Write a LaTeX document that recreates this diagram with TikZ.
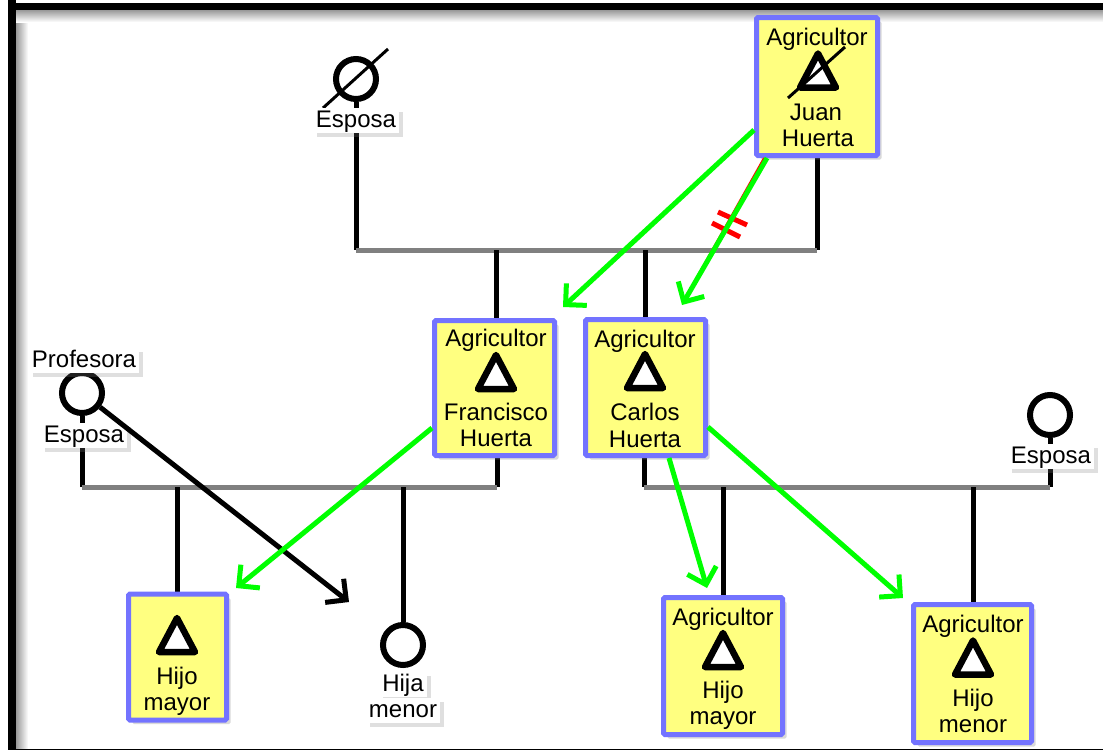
\documentclass[tikz,border=0pt]{standalone}
\usepackage{fontspec}
\setmainfont{Liberation Sans}
\usetikzlibrary{arrows.meta,shadows,backgrounds}
\definecolor{boxblue}{RGB}{115,115,255}
\definecolor{boxyellow}{RGB}{255,255,128}
\definecolor{arrgreen}{RGB}{0,255,0}
\definecolor{linegray}{RGB}{128,128,128}
\definecolor{hashred}{RGB}{255,0,0}
\newcommand\ptri[2]{\draw[tri] ({#1-18},{#2+17}) -- (#1,{#2-17}) -- ({#1+18},{#2+17}) -- cycle;}
\begin{document}
\begin{tikzpicture}[x=1pt,y=-1pt,
  every node/.style={font=\fontsize{24}{26}\selectfont},
  person/.style={draw=boxblue, line width=5pt, fill=boxyellow, rounded corners=1.5pt, inner sep=0pt,
    drop shadow={shadow xshift=4pt, shadow yshift=-4pt, opacity=0.3}},
  lbl/.style={fill=white, anchor=base, inner xsep=3pt, inner ysep=1.5pt, text height=18pt, text depth=4pt,
    drop shadow={shadow xshift=4pt, shadow yshift=-4pt, opacity=0.25}},
  txt/.style={anchor=base, inner sep=0pt},
  kin/.style={line width=5pt, black},
  bar/.style={line width=5pt, linegray},
  fem/.style={draw, line width=6pt, circle, minimum size=40pt, inner sep=0pt, fill=white},
  tri/.style={draw, line width=6.5pt, fill=white, line join=round},
  slash/.style={line width=3pt, black},
  barb/.tip={Straight Barb[length=15pt, width=30pt, line width=5pt]},
  link/.style={line width=5pt, arrgreen, -barb},
  blink/.style={line width=5pt, black, -barb},
  hash/.style={line width=5pt, hashred},
]
\useasboundingbox (0,0) rectangle (1103,750);
% frame
\shade[left color=black!40, right color=white] (16,10) rectangle (28,749);
\shade[top color=black!40, bottom color=white] (16,10) rectangle (1103,22);
\fill[black] (8,0) rectangle (16,750);
\fill[black] (8,3) rectangle (1103,10);
\draw[line width=1pt] (8,749) -- (1103,749);

% persons (boxes)
\node[person, minimum width=121pt, minimum height=138pt] (juan) at (817,86.5) {};
\node[person, minimum width=120pt, minimum height=135pt] (fran) at (494.5,388) {};
\node[person, minimum width=120pt, minimum height=136pt] (carlos) at (645.5,387.5) {};
\node[person, minimum width=98pt, minimum height=126pt] (hm1) at (177.5,657) {};
\node[person, minimum width=119pt, minimum height=137pt] (hm2) at (723,666) {};
\node[person, minimum width=118pt, minimum height=138pt] (hmn) at (972.5,673.5) {};

% women
\node[fem] (esp1) at (356,79) {};
\node[fem] (esp2) at (82,393) {};
\node[fem] (esp3) at (1050,415) {};
\node[fem] (hija) at (403,645) {};
\draw[slash] (323,108) -- (388,49);

% kinship lines
\begin{pgfonlayer}{background}
\coordinate (tb1) at (356,250);
\coordinate (tb2) at (817,250);
\draw[kin] (esp1.south) -- (tb1);
\draw[kin] (juan.south -| tb2) -- (tb2);
\draw[bar] (tb1) -- (tb2);
\coordinate (tc1) at (496,250);
\coordinate (tc2) at (645,250);
\draw[kin] (tc1) -- (tc1 |- fran.north);
\draw[kin] (tc2) -- (tc2 |- carlos.north);

\coordinate (lb1) at (82,487);
\coordinate (lb2) at (497,487);
\draw[kin] (esp2.south) -- (lb1);
\draw[kin] (fran.south -| lb2) -- (lb2);
\draw[bar] (lb1) -- (lb2);
\coordinate (lc1) at (177,487);
\coordinate (lc2) at (403,487);
\draw[kin] (lc1) -- (lc1 |- hm1.north);
\draw[kin] (lc2) -- (hija.north);

\coordinate (rb1) at (644,487);
\coordinate (rb2) at (1050,487);
\draw[kin] (carlos.south -| rb1) -- (rb1);
\draw[kin] (esp3.south) -- (rb2);
\draw[bar] (rb1) -- (rb2);
\coordinate (rc1) at (723,487);
\coordinate (rc2) at (973,487);
\draw[kin] (rc1) -- (rc1 |- hm2.north);
\draw[kin] (rc2) -- (rc2 |- hmn.north);
\end{pgfonlayer}

% labels
\node[lbl] (l1) at (356,127) {Esposa};
\node[lbl] (l2) at (84,367) {Profesora};
\node[lbl] (l3) at (84,442) {Esposa};
\node[lbl] (l4) at (1051,463) {Esposa};
\node[lbl] (l5) at (403,691) {Hija};
\node[lbl] (l6) at (403,717) {menor};

% box contents
\node[txt] (jt1) at (817,45) {Agricultor};
\ptri{818}{70.5}
\draw[slash] (788,98) -- (845,47);
\node[txt] (jt2) at (816,120) {Juan};
\node[txt] (jt3) at (818,146) {Huerta};

\node[txt] (ft1) at (496,346) {Agricultor};
\ptri{496}{372}
\node[txt] (ft2) at (496,420) {Francisco};
\node[txt] (ft3) at (496,446) {Huerta};

\node[txt] (ct1) at (645,347) {Agricultor};
\ptri{645}{371}
\node[txt] (ct2) at (645,420) {Carlos};
\node[txt] (ct3) at (645,447) {Huerta};

\ptri{177}{635}
\node[txt] (ht1) at (177,684) {Hijo};
\node[txt] (ht2) at (177,710) {mayor};

\node[txt] (mt1) at (723,625) {Agricultor};
\ptri{723}{650}
\node[txt] (mt2) at (723,698) {Hijo};
\node[txt] (mt3) at (723,724) {mayor};

\node[txt] (nt1) at (973,632) {Agricultor};
\ptri{973}{657.5}
\node[txt] (nt2) at (973,706) {Hijo};
\node[txt] (nt3) at (973,732) {menor};

% arrows
\coordinate (btip) at (349,602);
\draw[blink] (esp2) -- (btip);

\coordinate (g1b) at (563,307);
\coordinate (g2b) at (682,305);
\coordinate (g3b) at (236,588);
\coordinate (g4b) at (707,588);
\coordinate (g5b) at (903,598);
\draw[line width=2pt, hashred] ([xshift=-53pt]juan.south) -- (683,302);
\draw[hash] (718,212) -- (747,225);
\draw[hash] (712,223) -- (740,237);
\draw[link] ([yshift=-43.5pt]juan.west) -- (g1b);
\draw[link] ([xshift=-50pt]juan.south) -- (g2b);
\draw[link] ([yshift=-40pt]fran.west) -- (g3b);
\draw[link] ([xshift=23.5pt]carlos.south) -- (g4b);
\draw[link] ([yshift=-39.5pt]carlos.east) -- (g5b);
\end{tikzpicture}
\end{document}
